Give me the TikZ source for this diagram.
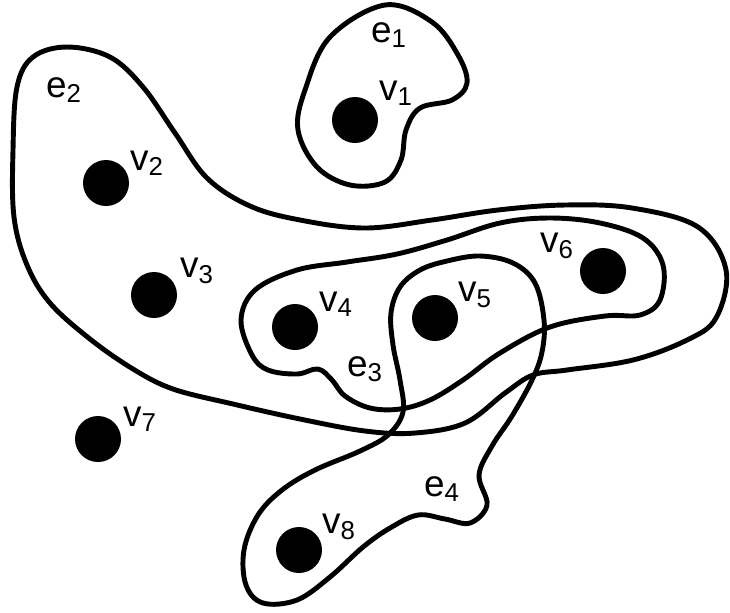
\documentclass[tikz,border=0pt]{standalone}
\usepackage{fontspec}
\setmainfont{Liberation Sans}
\newlength{\DotSize}
\setlength{\DotSize}{9.2mm}
\tikzset{
  vertex/.style={circle, fill=black, minimum size=\DotSize, inner sep=0pt},
  name label/.style={inner sep=0pt, font=\fontsize{21}{25}\selectfont},
  hyperedge/.style={line width=2.8pt, line join=round},
}
\newcommand{\sublabel}[2]{#1\textsubscript{#2}}

\begin{document}
\begin{tikzpicture}[x=0.2mm, y=-0.2mm]
  \useasboundingbox (0,0) rectangle (730,612);

  \node[vertex] (v1) at (355,120) {};
  \node[vertex] (v2) at (106,183) {};
  \node[vertex] (v3) at (154,295) {};
  \node[vertex] (v4) at (295,327) {};
  \node[vertex] (v5) at (435,318) {};
  \node[vertex] (v6) at (603,271) {};
  \node[vertex] (v7) at (98,439) {};
  \node[vertex] (v8) at (299,550) {};

  \node[name label] (v1 label) at (396,93) {\sublabel{v}{1}};
  \node[name label] (v2 label) at (147,163) {\sublabel{v}{2}};
  \node[name label] (v3 label) at (197,271) {\sublabel{v}{3}};
  \node[name label] (v4 label) at (336,304) {\sublabel{v}{4}};
  \node[name label] (v5 label) at (475,295) {\sublabel{v}{5}};
  \node[name label] (v6 label) at (557,246) {\sublabel{v}{6}};
  \node[name label] (v7 label) at (140,419) {\sublabel{v}{7}};
  \node[name label] (v8 label) at (339,527) {\sublabel{v}{8}};

  \node[name label] (e1 label) at (389,35) {\sublabel{e}{1}};
  \node[name label] (e2 label) at (64,90) {\sublabel{e}{2}};
  \node[name label] (e3 label) at (365,369) {\sublabel{e}{3}};
  \node[name label] (e4 label) at (442,489) {\sublabel{e}{4}};

  % e1
  \draw[hyperedge] plot[smooth cycle, tension=0.6] coordinates {
    (385,5) (432,22) (458,55) (467,83) (452,100) (420,108) (406,130)
    (401,160) (385,182) (350,185) (317,167) (298,130) (305,90) (330,37)};
  % e2
  \draw[hyperedge] plot[smooth cycle, tension=0.6] coordinates {
    (67,47) (110,57) (143,87) (175,133) (207,178) (250,206) (300,220)
    (365,228) (432,220) (498,210) (565,205) (632,208) (698,227) (726,270)
    (716,318) (687,340) (633,360) (567,370) (533,375) (505,393) (465,423)
    (415,433) (365,431) (300,419) (233,404) (173,389) (133,369) (90,339)
    (50,303) (27,265) (14,217) (13,150) (17,87) (33,57)};
  % e3
  \draw[hyperedge] plot[smooth cycle, tension=0.6] coordinates {
    (241,320) (255,290) (297,270) (347,262) (397,254) (447,240) (500,223)
    (550,218) (600,223) (643,238) (663,265) (660,300) (640,315) (605,316)
    (550,327) (500,353) (463,380) (430,400) (400,409) (370,408) (345,396)
    (332,380) (318,369) (297,374) (268,370) (252,355)};
  % e4
  \draw[hyperedge] plot[smooth cycle, tension=0.6] coordinates {
    (447,261) (480,256) (513,263) (535,283) (544,320) (542,352) (532,380)
    (512,416) (492,446) (479,475) (487,505) (470,523) (445,519) (418,515)
    (390,528) (363,547) (330,577) (297,600) (263,603) (246,585) (244,550)
    (258,515) (282,490) (315,470) (360,451) (388,435) (403,412) (400,380)
    (393,345) (391,313) (400,287) (420,270)};
\end{tikzpicture}
\end{document}
